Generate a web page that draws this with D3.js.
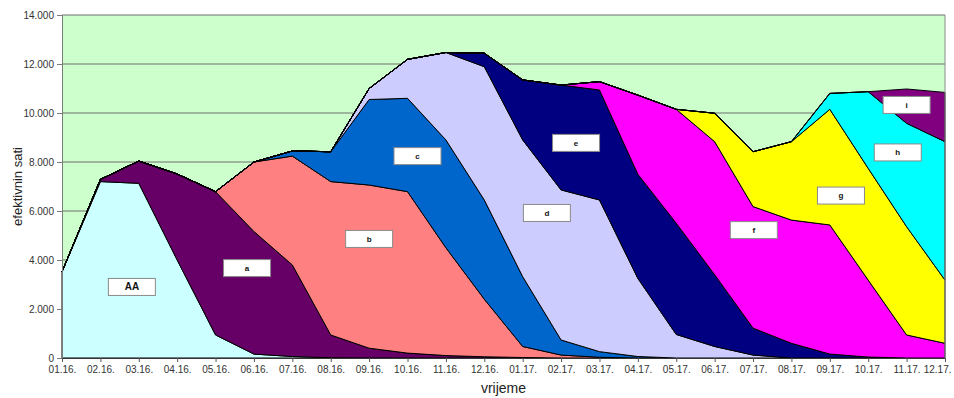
<!DOCTYPE html>
<html>
<head>
<meta charset="utf-8">
<script src="https://cdn.jsdelivr.net/npm/d3@7"></script>
<style>
  html, body { margin: 0; padding: 0; background: #ffffff; }
  svg { display: block; font-family: "Liberation Sans", Arial, sans-serif; }
</style>
</head>
<body>
<svg id="chart" width="954" height="398"></svg>
<script>
// Months on the x axis
const months = ["01.16.","02.16.","03.16.","04.16.","05.16.","06.16.","07.16.","08.16.",
  "09.16.","10.16.","11.16.","12.16.","01.17.","02.17.","03.17.","04.17.","05.17.","06.17.",
  "07.17.","08.17.","09.17.","10.17.","11.17.","12.17."];

// Effective hours per project and month (stacked bottom to top)
const seriesNames = ["AA","a","b","c","d","e","f","g","h","i"];
const valuesAA = [3520,7200,7130,4000,940,160,60,10,0,0,0,0,0,0,0,0,0,0,0,0,0,0,0,0];
const valuesA  = [0,90,910,3510,5850,5000,3740,930,400,200,100,50,20,0,0,0,0,0,0,0,0,0,0,0];
const valuesB  = [0,0,0,0,0,2840,4440,6260,6660,6590,4400,2350,450,120,30,0,0,0,0,0,0,0,0,0];
const valuesC  = [0,0,0,0,0,0,210,1220,3490,3810,4400,4050,2850,615,230,60,0,0,0,0,0,0,0,0];
const valuesD  = [0,0,0,0,0,0,0,0,450,1590,3570,5440,5580,6125,6190,3190,960,470,120,0,0,0,0,0];
const valuesE  = [0,0,0,0,0,0,0,0,0,0,0,550,2450,4280,4490,4250,4540,2930,1100,600,160,40,0,0];
const valuesF  = [0,0,0,0,0,0,0,0,0,0,0,0,0,0,340,3230,4650,5430,4960,5030,5270,3140,940,600];
const valuesG  = [0,0,0,0,0,0,0,0,0,0,0,0,0,0,0,0,0,1160,2240,3200,4720,4560,4420,2580];
const valuesH  = [0,0,0,0,0,0,0,0,0,0,0,0,0,0,0,0,0,0,0,0,650,3130,4220,5650];
const valuesI  = [0,0,0,0,0,0,0,0,0,0,0,0,0,0,0,0,0,0,0,0,0,0,1400,2010];
const seriesValues = [valuesAA,valuesA,valuesB,valuesC,valuesD,valuesE,valuesF,valuesG,valuesH,valuesI];

// Name tags: anchor month (fractional index) and value
const labelMonth = [1.82,4.82,8.0,9.26,12.63,13.39,18.02,20.29,21.77,22.0];
const labelValue = [2900,3670,4860,8240,5920,8780,5220,6630,8390,10330];

// Y axis ticks
const yTicks = [0,2000,4000,6000,8000,10000,12000,14000];
const yTickText = ["0","2.000","4.000","6.000","8.000","10.000","12.000","14.000"];

const colors = ["#ccffff","#660066","#ff8080","#0066cc","#ccccff","#000080","#ff00ff","#ffff00","#00ffff","#800080"];

const svg = d3.select("#chart");
const plotLeft = 62, plotRight = 945, plotTop = 15, plotBottom = 358;

const x = d3.scalePoint().domain(months).range([plotLeft, plotRight]);
const xi = d3.scaleLinear().domain([0, months.length - 1]).range([plotLeft, plotRight]);
const y = d3.scaleLinear().domain([0, 14000]).range([plotBottom, plotTop]);

// Build rows for the stack
const rows = months.map((m, i) => {
  const r = { month: m };
  seriesNames.forEach((s, k) => { r[s] = seriesValues[k][i]; });
  return r;
});
const stacked = d3.stack().keys(seriesNames)(rows);

// Plot background
svg.append("rect")
  .attr("x", plotLeft).attr("y", plotTop)
  .attr("width", plotRight - plotLeft).attr("height", plotBottom - plotTop)
  .attr("fill", "#ccffcc");

// Horizontal grid lines
svg.append("g").selectAll("line").data(yTicks.slice(1)).join("line")
  .attr("x1", plotLeft).attr("x2", plotRight)
  .attr("y1", d => y(d)).attr("y2", d => y(d))
  .attr("stroke", "#6e6e6e").attr("stroke-width", 1);

// Stacked areas
const area = d3.area()
  .x(d => x(d.data.month))
  .y0(d => y(d[0]))
  .y1(d => y(d[1]));

svg.append("g").selectAll("path").data(stacked).join("path")
  .attr("d", area)
  .attr("fill", (d, k) => colors[k])
  .attr("stroke", "#000")
  .attr("stroke-width", 1)
  .attr("stroke-linejoin", "round");

// Plot frame on the right side
svg.append("line")
  .attr("x1", plotRight).attr("x2", plotRight).attr("y1", plotTop).attr("y2", plotBottom)
  .attr("stroke", "#8c8c8c").attr("stroke-width", 1);

// Y axis
const yAxis = d3.axisLeft(y).tickValues(yTicks)
  .tickFormat((d, i) => yTickText[i]).tickSize(5).tickPadding(3);
const gy = svg.append("g").attr("transform", `translate(${plotLeft},0)`).call(yAxis);
gy.select(".domain").attr("stroke", "#7a7a7a");
gy.selectAll(".tick line").attr("stroke", "#7a7a7a");
gy.selectAll("text").attr("fill", "#333").attr("font-size", 10)
  .attr("font-family", "Liberation Sans, Arial, sans-serif");

// X axis
const xAxis = d3.axisBottom(x).tickSize(4).tickPadding(4);
const gx = svg.append("g").attr("transform", `translate(0,${plotBottom})`).call(xAxis);
gx.select(".domain").attr("stroke", "#333");
gx.selectAll(".tick line").attr("stroke", "#555");
gx.selectAll("text").attr("fill", "#333").attr("font-size", 10)
  .attr("font-family", "Liberation Sans, Arial, sans-serif");
// keep the last month label inside the page
gx.selectAll(".tick text").filter(d => d === months[months.length - 1])
  .attr("text-anchor", "end").attr("dx", "0.6em");

// Series name tags
const tags = svg.append("g").selectAll("g").data(seriesNames).join("g")
  .attr("transform", (d, k) => `translate(${xi(labelMonth[k])},${y(labelValue[k])})`);
tags.append("rect")
  .attr("x", -23.5).attr("y", -8.5).attr("width", 47).attr("height", 17)
  .attr("fill", "#ffffff").attr("stroke", "#8a8a8a").attr("stroke-width", 1);
tags.append("text")
  .attr("text-anchor", "middle").attr("dy", "0.35em")
  .attr("font-size", d => d === "AA" ? 10 : 8)
  .attr("font-weight", "bold").attr("fill", "#111")
  .text(d => d);

// Axis titles
svg.append("text")
  .attr("x", (plotLeft + plotRight) / 2).attr("y", 393)
  .attr("text-anchor", "middle").attr("font-size", 14).attr("fill", "#222")
  .text("vrijeme");
svg.append("text")
  .attr("transform", `translate(22,${(plotTop + plotBottom) / 2}) rotate(-90)`)
  .attr("text-anchor", "middle").attr("font-size", 13).attr("fill", "#222")
  .text("efektivnin sati");
</script>
</body>
</html>
